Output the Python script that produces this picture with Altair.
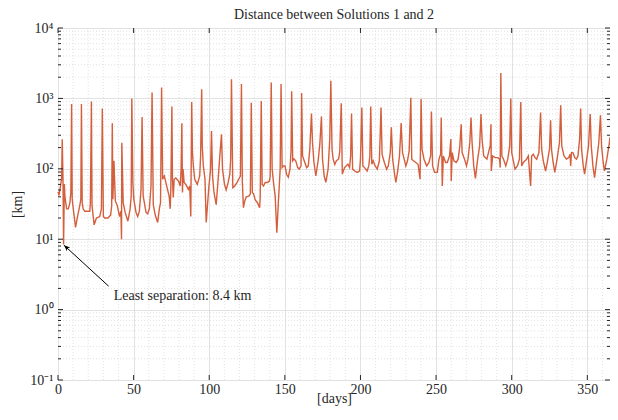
import altair as alt
import pandas as pd

# ---- data ----
days = [0, 0.7, 2.0, 2.4, 2.8, 3.3, 3.7, 4.2, 4.6, 5.7, 6.8, 7.9, 8.5, 9.0, 9.4, 10.1, 11.6, 12.9, 14.4, 15.1,
        15.5, 16.0, 16.6, 17.7, 21.0, 21.4, 22.1, 22.5, 23.9, 25.4, 27.6, 28.7, 29.3, 30.0, 30.9, 33.0, 34.8, 35.5,
        35.9, 36.3, 37.0, 37.9, 39.2, 40.7, 41.6, 42.0, 42.2, 43.1, 44.4, 46.2, 47.7, 48.4, 48.8, 49.5, 50.1, 51.6,
        52.7, 53.8, 54.9, 55.6, 56.3, 57.1, 58.2, 59.3, 60.4, 61.5, 62.2,
        63.0, 64.3, 65.9, 67.0, 67.8, 68.5, 69.2, 70.3, 71.3, 72.4, 73.5, 74.2, 74.6, 75.3, 75.7, 76.2, 76.8, 77.9,
        79.7, 80.8, 81.4, 81.9, 82.3, 82.7, 83.4, 84.5, 86.2, 87.1, 87.8, 88.4, 88.9, 89.5, 90.4, 92.1, 93.7, 94.3,
        95.0, 95.4, 96.1, 97.2, 98.0, 99.8, 100.9, 101.5, 102.2, 103.1, 104.6, 105.9, 107.0, 108.1, 108.8, 110.1,
        111.2, 112.5, 113.6, 114.2, 114.7, 115.6, 116.9, 118.4, 119.5, 120.6, 121.3, 121.9, 122.6, 123.5, 124.5,
        126.1, 127.2, 127.8, 128.5, 129.3, 130.4, 131.9, 133.3, 133.7, 134.4, 135.0, 135.9, 137.0, 138.5, 139.8,
        140.3, 141.0, 141.6, 142.5, 143.6, 144.7, 145.7, 146.9, 147.5, 148.2, 149.1, 150.1, 151.2, 152.3, 153.4,
        154.1, 154.5, 155.2, 156.0, 157.2, 158.5, 159.5, 160.7, 161.1, 161.7, 162.8, 164.4, 165.5, 166.5, 167.6,
        168.3, 169.2, 170.5, 172.0, 173.1, 174.2, 174.9, 176.0, 177.1, 178.6, 179.7, 180.4, 181.2, 181.9, 183.0,
        184.1, 185.6, 186.3, 187.3, 188.0, 189.5, 191.7, 192.8, 193.5, 194.1, 194.8, 196.1, 197.9, 199.4, 200.0,
        200.9, 201.6, 202.7, 204.4, 205.5, 206.2, 206.8, 207.5, 208.4, 209.7, 211.1, 212.5, 213.6, 214.3, 215.8,
        217.3, 218.4, 219.7, 220.4, 221.3, 222.4, 223.4, 224.5, 225.8, 226.9, 227.8, 228.9, 230.0, 231.1, 232.2,
        233.3, 233.9, 235.0, 236.6, 238.1, 239.4, 240.1, 240.7, 242.0, 243.8, 245.3, 246.4, 246.9, 247.7, 249.0,
        250.8, 251.9, 253.0, 253.4, 254.1, 254.8, 256.3, 257.4, 258.9, 259.4, 259.8, 260.0, 260.7, 261.8, 263.3,
        264.6, 265.7, 266.6, 267.2, 268.8, 270.1, 271.1, 272.3, 273.1, 273.8, 274.9, 276.0, 277.5, 278.8, 279.7,
        280.4, 281.5, 283.6, 285.2, 285.8, 286.3, 286.5, 287.4, 289.1, 290.7, 292.0, 292.4, 292.8, 293.5, 294.6,
        296.1, 297.4, 298.7, 299.4, 300.0, 301.1, 302.2, 303.8, 305.1, 306.0, 306.6, 307.7, 309.9, 311.0, 312.5,
        313.2, 314.3, 315.4, 316.5, 318.0, 319.1, 319.8, 320.9, 322.4, 323.7, 325.0, 325.7, 326.3, 327.4, 328.5,
        330.0, 331.6, 332.4, 333.1, 334.6, 336.2, 337.7, 338.6, 339.0, 339.5, 340.5, 341.7, 342.8, 343.8, 344.9,
        345.6, 346.2, 347.3, 348.2, 349.3, 350.8, 351.9, 352.6, 353.7, 354.8, 356.3, 357.6, 358.7, 359.4, 360.5,
        361.3, 362.9, 364.6, 365.0]

km = [47, 42, 64, 71, 263, 71, 8.4, 61, 40, 27, 27, 33, 46, 830, 37, 27, 14.7, 21, 30, 37,
      830, 33, 27, 25, 25, 33, 905, 30, 16, 20, 21, 27, 720, 21, 20, 20, 22, 30,
      445, 37, 130, 35, 30, 21, 25, 10, 235, 33, 24, 18, 27, 41, 1000, 64, 37, 24,
      21, 25, 51, 545, 41, 33, 24, 23, 27, 57, 1210,
      31, 22, 17.3, 27, 33, 1430, 71, 79, 64, 51, 41, 27, 51, 770, 71, 39, 71, 74,
      67, 57, 99, 445, 46, 99, 64, 60, 51, 57, 21, 890, 170, 110, 71, 60, 79, 152,
      1350, 210, 110, 71, 17.3, 57, 99, 345, 79, 47, 31, 71, 152, 310, 99, 60,
      50, 64, 83, 140, 1870, 54, 57, 64, 71, 79, 1600, 64, 28, 35, 40,
      41, 44, 870, 46, 44, 36, 33, 28, 39, 920, 60, 57, 64, 64, 67,
      79, 1680, 99, 64, 41, 12.4, 33, 99, 1600, 104, 110, 110, 83, 76, 99,
      180, 1260, 130, 138, 130, 104, 99, 110, 1190, 152, 130, 104, 110, 190, 610,
      235, 125, 79, 130, 220, 555, 138, 79, 64, 99, 263, 1780, 190, 138, 115,
      130, 138, 175, 850, 84, 104, 116, 104, 152, 610, 99, 93, 89, 93, 137,
      740, 110, 104, 93, 110, 152, 770, 116, 130, 110, 99, 130, 740, 160, 123,
      99, 110, 170, 390, 137, 89, 64, 89, 152, 445, 170, 137, 110, 130, 180,
      1020, 137, 130, 123, 116, 71, 980, 190, 137, 110, 123, 152, 650, 110, 89,
      89, 137, 161, 535, 57, 152, 123, 123, 152, 212, 265, 67, 170, 130, 123,
      137, 212, 430, 170, 137, 110, 137, 236, 535, 236, 110, 73, 137, 212, 600,
      263, 152, 137, 190, 212, 430, 93, 152, 144, 144, 137, 104, 2290, 152, 137,
      110, 137, 212, 1000, 170, 130, 99, 110, 137, 890, 110, 123, 137, 152, 57,
      152, 161, 144, 137, 170, 630, 190, 130, 93, 130, 190, 490, 190, 123, 89,
      137, 236, 800, 212, 152, 137, 144, 161, 110, 170, 170, 144, 137, 152, 263,
      720, 190, 110, 84, 123, 212, 600, 212, 110, 75, 137, 236, 575, 212, 123,
      93, 137, 236, 280]

x_major = [0, 50, 100, 150, 200, 250, 300, 350]
x_minor = [10, 20, 30, 40, 60, 70, 80, 90, 110, 120, 130, 140, 160, 170, 180, 190, 210, 220, 230, 240,
           260, 270, 280, 290, 310, 320, 330, 340, 360]
y_major = [0.1, 1, 10, 100, 1000, 10000]
y_major_labels = ["10⁻¹", "10⁰", "10¹", "10²", "10³", "10⁴"]
y_minor = [0.2, 0.3, 0.4, 0.5, 0.6, 0.7, 0.8, 0.9,
           2, 3, 4, 5, 6, 7, 8, 9,
           20, 30, 40, 50, 60, 70, 80, 90,
           200, 300, 400, 500, 600, 700, 800, 900,
           2000, 3000, 4000, 5000, 6000, 7000, 8000, 9000]

arrow_days = [33.5, 4.0]
arrow_km = [2.15, 8.2]
note_day = [36.8]
note_km = [1.55]
note_text = ["Least separation: 8.4 km"]

TITLE = "Distance between Solutions 1 and 2"
FONT = "Liberation Serif"
INK = "#262626"
LINE = "#D35F3D"
W, H = 552, 352

# ---- build ----
df = pd.DataFrame({"day": days, "km": km})
xscale = alt.Scale(domain=[0, 365], nice=False, zero=False)
yscale = alt.Scale(type="log", domain=[0.1, 10000], nice=False)

label_expr = " : ".join(
    f"datum.value < {v * 3} ? '{s}'" for v, s in zip(y_major[:-1], y_major_labels[:-1])
) + f" : '{y_major_labels[-1]}'"

x_axis = alt.Axis(values=x_major, grid=True, gridColor="#e2e2e2", gridWidth=1, ticks=False, domain=False,
                  labelFont=FONT, labelFontSize=14, labelColor=INK, labelPadding=2, labelFlush=False,
                  labelOverlap=False, title="[days]", titleFont=FONT, titleFontSize=14,
                  titleFontWeight="normal", titleColor=INK, titleBaseline="alphabetic", titleY=22)
y_axis = alt.Axis(values=y_major, grid=True, gridColor="#e2e2e2", gridWidth=1, ticks=False, domain=False,
                  labelFont=FONT, labelFontSize=14, labelColor=INK, labelPadding=5, labelOverlap=False,
                  labelExpr=label_expr, title="[km]", titleFont=FONT, titleFontSize=14,
                  titleFontWeight="normal", titleColor=INK, titlePadding=5)


def X(field):
    return alt.X(field, scale=xscale, axis=x_axis)


def Y(field):
    return alt.Y(field, scale=yscale, axis=y_axis)


xmin_df = pd.DataFrame({"v": x_minor})
ymin_df = pd.DataFrame({"v": y_minor})
xmaj_df = pd.DataFrame({"v": x_major})
ymaj_df = pd.DataFrame({"v": y_major})

minor_x = alt.Chart(xmin_df).mark_rule(color="#d6d6d6", strokeWidth=0.7, strokeDash=[1, 2]).encode(x=X("v:Q"))
minor_y = alt.Chart(ymin_df).mark_rule(color="#d6d6d6", strokeWidth=0.7, strokeDash=[1, 2]).encode(y=Y("v:Q"))

line = alt.Chart(df).mark_line(color=LINE, strokeWidth=1.4).encode(x=X("day:Q"), y=Y("km:Q"))

tick_style = dict(color=INK, strokeWidth=1)
left_major = alt.Chart(ymaj_df).mark_rule(**tick_style).encode(y=Y("v:Q"), x=alt.value(0), x2=alt.value(5))
right_major = alt.Chart(ymaj_df).mark_rule(**tick_style).encode(y=Y("v:Q"), x=alt.value(W - 5), x2=alt.value(W))
left_minor = alt.Chart(ymin_df).mark_rule(**tick_style).encode(y=Y("v:Q"), x=alt.value(0), x2=alt.value(3))
right_minor = alt.Chart(ymin_df).mark_rule(**tick_style).encode(y=Y("v:Q"), x=alt.value(W - 3), x2=alt.value(W))
top_major = alt.Chart(xmaj_df).mark_rule(**tick_style).encode(x=X("v:Q"), y=alt.value(0), y2=alt.value(5))
bottom_major = alt.Chart(xmaj_df).mark_rule(**tick_style).encode(x=X("v:Q"), y=alt.value(H - 5), y2=alt.value(H))

arrow_df = pd.DataFrame({"day": arrow_days, "km": arrow_km, "o": [0, 1]})
arrow_line = alt.Chart(arrow_df).mark_line(color="black", strokeWidth=1).encode(
    x=X("day:Q"), y=Y("km:Q"), order="o:Q")
head_df = arrow_df.iloc[[1]]
arrow_head = alt.Chart(head_df).mark_point(
    shape="M0,0L-0.45,1.1L0,0.8L0.45,1.1Z", filled=True, color="black", opacity=1, size=120, angle=312,
    strokeWidth=0.5).encode(x=X("day:Q"), y=Y("km:Q"))

note_df = pd.DataFrame({"day": note_day, "km": note_km, "t": note_text})
note = alt.Chart(note_df).mark_text(align="left", baseline="middle", font=FONT, fontSize=14,
                                    color=INK).encode(x=X("day:Q"), y=Y("km:Q"), text="t:N")

chart = alt.layer(
    minor_x, minor_y, line, left_major, right_major, left_minor, right_minor, top_major, bottom_major,
    arrow_line, arrow_head, note
).properties(
    width=W, height=H,
    title=alt.TitleParams(TITLE, font=FONT, fontSize=14, fontWeight="normal", color=INK, offset=-1,
                          anchor="middle"),
    autosize=alt.AutoSizeParams(type="none"),
    padding={"left": 50, "top": 20, "right": 0, "bottom": 28},
).configure(background="white", view=alt.ViewConfig(stroke=INK, strokeWidth=1))

chart.save("out.html", embed_options={"renderer": "svg", "actions": False})
